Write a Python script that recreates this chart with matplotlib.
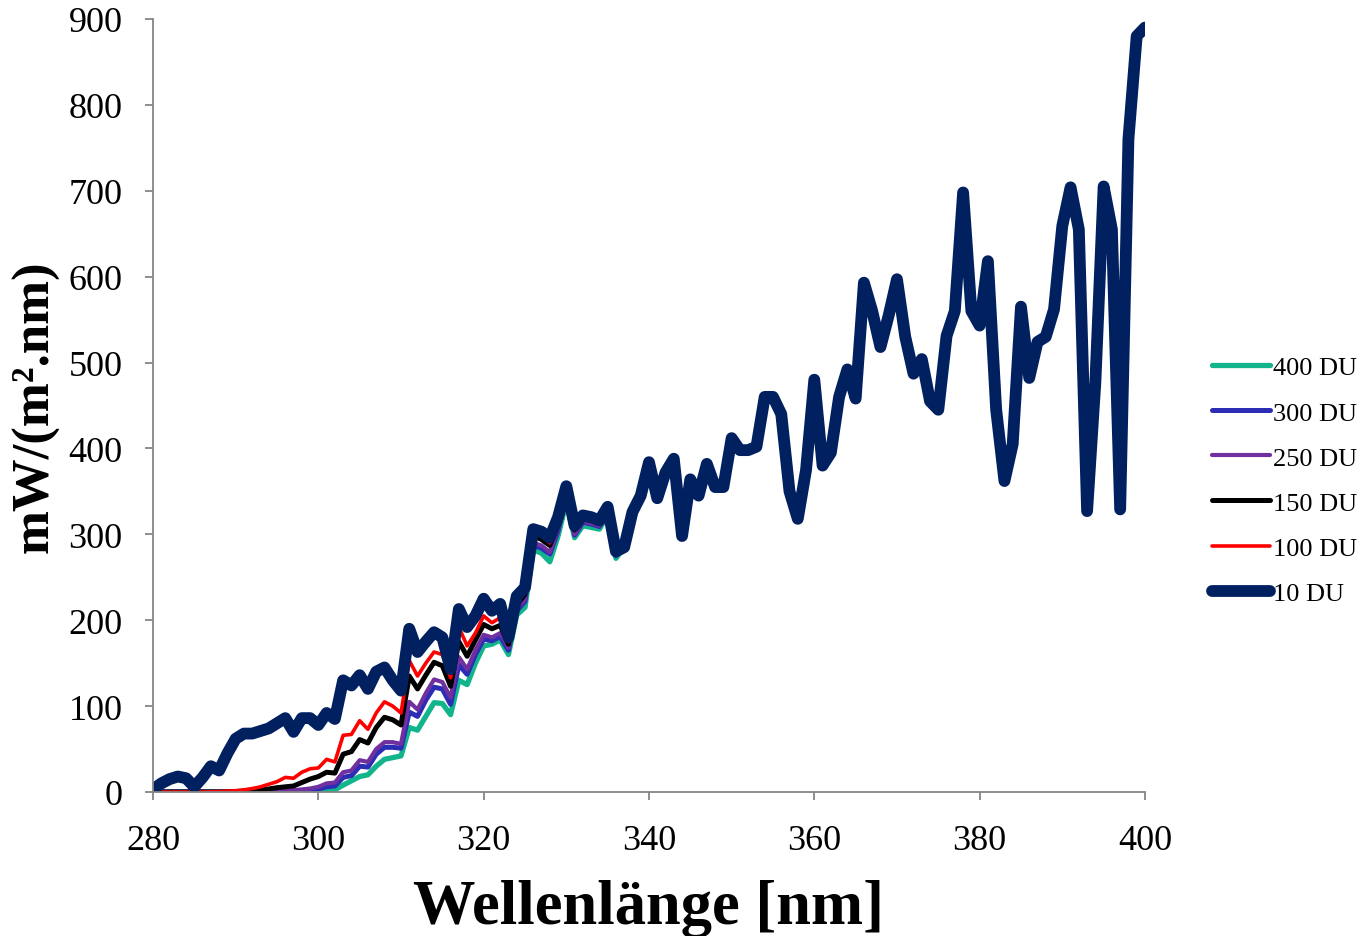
import numpy as np
import matplotlib
matplotlib.use("Agg")
import matplotlib.pyplot as plt

plt.rcParams["font.family"] = ["Liberation Serif", "DejaVu Serif"]

wl = list(range(280, 401))

# 10 DU, full range 280-400 nm
du10 = [3, 10, 15, 18, 16, 6, 17, 30, 25, 45,
        62, 68, 68, 71, 74, 80, 86, 70, 86, 86,
        78, 92, 85, 130, 124, 136, 120, 140, 145, 130,
        118, 190, 163, 175, 186, 180, 143, 213, 192, 205,
        225, 211, 219, 180, 228, 238, 306, 303, 296, 320,
        356, 310, 322, 320, 316, 332, 280, 285, 326, 345,
        384, 342, 372, 388, 298, 364, 345, 382, 355, 355,
        412, 398, 398, 402, 460, 460, 440, 350, 318, 375,
        480, 380, 395, 460, 492, 458, 593, 560, 518, 555,
        597, 530, 487, 504, 455, 445, 531, 560, 698, 560,
        543, 618, 445, 362, 405, 565, 482, 524, 530, 562,
        659, 704, 655, 327, 477, 705, 655, 329, 760, 880,
        890]

# other columns 280-336 nm, above 336 they lie under the 10 DU curve
du100_low = [0, 0, 0, 0, 0, 0, 0, 0.2, 0.5, 1,
             1.5, 2.5, 4, 6, 9, 12, 17, 16, 23, 27,
             28, 38, 35, 66, 67, 83, 73, 92, 105, 100,
             92, 153, 135, 150, 163, 160, 133, 192, 170, 185,
             205, 197, 203, 175, 222, 233, 302, 298, 290, 315,
             352, 306, 319, 317, 314, 330, 279]
du150_low = [0, 0, 0, 0, 0, 0, 0, 0, 0, 0.2,
             0.5, 1, 1.5, 2.5, 3.5, 5, 6, 7, 11, 15,
             18, 23, 22, 44, 47, 61, 57, 75, 87, 84,
             78, 135, 120, 136, 151, 147, 123, 175, 158, 177,
             195, 190, 194, 172, 218, 230, 298, 294, 287, 312,
             350, 305, 318, 316, 313, 329, 278]
du250_low = [0, 0, 0, 0, 0, 0, 0, 0, 0, 0,
             0, 0, 0, 0, 0.5, 1, 1.5, 2, 3, 4,
             6, 10, 11, 23, 25, 37, 35, 50, 58, 58,
             56, 105, 96, 115, 131, 128, 110, 157, 143, 165,
             183, 180, 185, 168, 213, 225, 290, 287, 279, 306,
             347, 300, 315, 313, 310, 327, 276]
du300_low = [0, 0, 0, 0, 0, 0, 0, 0, 0, 0,
             0, 0, 0, 0, 0, 0, 0.5, 1, 1.5, 2.5,
             3.5, 6, 7, 17, 19, 30, 29, 44, 52, 52,
             51, 93, 88, 107, 122, 120, 102, 148, 137, 160,
             178, 176, 181, 165, 211, 222, 287, 284, 277, 304,
             345, 299, 314, 312, 309, 326, 275]
du400_low = [0, 0, 0, 0, 0, 0, 0, 0, 0, 0,
             0, 0, 0, 0, 0, 0, 0, 0, 0, 0.5,
             1, 2, 2.5, 8, 13, 18, 20, 30, 38, 40,
             42, 75, 72, 88, 104, 103, 90, 130, 125, 150,
             170, 172, 177, 160, 206, 215, 282, 278, 268, 298,
             338, 296, 310, 308, 306, 323, 272]

tail = du10[len(du400_low):]
series = [
    ("400 DU", du400_low + tail, "#12B48C", 3.8),
    ("300 DU", du300_low + tail, "#2B2DB4", 3.6),
    ("250 DU", du250_low + tail, "#7030A0", 3.0),
    ("150 DU", du150_low + tail, "#000000", 3.6),
    ("100 DU", du100_low + tail, "#FF0000", 2.6),
    ("10 DU", du10, "#002060", 8.5),
]

fig = plt.figure(figsize=(13.65, 9.37), dpi=100)
ax = fig.add_axes([0.1121, 0.1537, 0.7267, 0.825])

for name, vals, col, lw in series:
    ax.plot(wl, vals, color=col, lw=lw, label=name,
            solid_joinstyle="round", solid_capstyle="round")

ax.set_xlim(280, 400)
ax.set_ylim(0, 900)
ax.set_xticks(np.arange(280, 401, 20))
ax.set_yticks(np.arange(0, 901, 100))

for s in ["top", "right"]:
    ax.spines[s].set_visible(False)
for s in ["left", "bottom"]:
    ax.spines[s].set_color("#868686")
    ax.spines[s].set_linewidth(1.3)

ax.tick_params(axis="y", direction="out", length=6, width=1.3, color="#868686",
               labelsize=26, pad=16)
ax.tick_params(axis="x", direction="out", length=6, width=1.3, color="#868686",
               labelsize=26, pad=17)

ax.set_xlabel("Wellenlänge [nm]", fontsize=45, fontweight="bold", labelpad=16)
ax.set_ylabel("mW/(m².nm)", fontsize=38, fontweight="bold", labelpad=6)

fig.legend(loc="center left", bbox_to_anchor=(0.888, 0.4862), frameon=False,
           fontsize=19, handlelength=2.2, handletextpad=0.1, labelspacing=0.82,
           borderpad=0, borderaxespad=0)

fig.savefig("out.png", dpi=100)
